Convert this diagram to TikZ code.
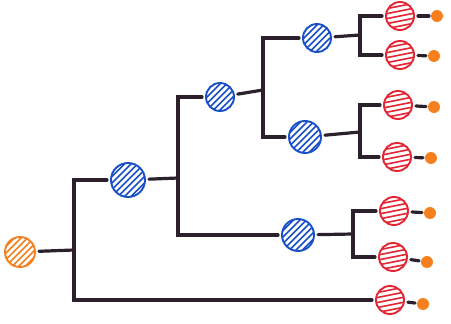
\documentclass[tikz,border=0pt]{standalone}
\usepackage{tikz}

\definecolor{penblue}{RGB}{25,80,200}
\definecolor{penred}{RGB}{228,38,52}
\definecolor{penorange}{RGB}{246,128,30}
\definecolor{penink}{RGB}{45,32,45}

\tikzset{
  ball/.style={circle, draw=#1, line width=1.9pt, fill=white, inner sep=0pt, outer sep=4pt},
  stripes/.style={path picture={
    \foreach \k in {-3,...,3}
      \draw[#1, line width=1.6pt] ([shift={(-20pt,\k*6.5pt-20pt)}]path picture bounding box.center) -- ++(40pt,40pt);
  }},
  flatstripes/.style={path picture={
    \foreach \k in {-3,...,3}
      \draw[#1, line width=1.6pt] ([shift={(-20pt,\k*5pt-4pt)}]path picture bounding box.center) -- ++(40pt,8pt);
  }},
  rootball/.style={ball=penorange, stripes=penorange, minimum size=30pt},
  blueball/.style={ball=penblue, stripes=penblue, minimum size=#1},
  redball/.style={ball=penred, flatstripes=penred, minimum size=28pt},
  dot/.style={circle, fill=penorange, inner sep=0pt, minimum size=12pt, outer sep=2pt},
  edge/.style={penink, line width=3.2pt, line cap=round},
}

\begin{document}
\begin{tikzpicture}[x=1pt, y=-1pt]
    \useasboundingbox (0,0) rectangle (451,324);

    % circles
    \node[rootball] (root) at (20,252) {};
    \node[blueball=34pt] (b1) at (128,180) {};
    \node[blueball=28pt] (b2) at (220,97) {};
    \node[blueball=28pt] (b3) at (317,38) {};
    \node[blueball=32pt] (b4) at (305,137) {};
    \node[blueball=32pt] (b5) at (298,235) {};
    \node[redball] (r1) at (400,16) {};
    \node[redball] (r2) at (400,55) {};
    \node[redball] (r3) at (398,105) {};
    \node[redball] (r4) at (397,157) {};
    \node[redball] (r5) at (394,211) {};
    \node[redball] (r6) at (393,257) {};
    \node[redball] (r7) at (390,300) {};

    % ends
    \node[dot] (d1) at (437,16) {};
    \node[dot] (d2) at (434,56) {};
    \node[dot] (d3) at (434,107) {};
    \node[dot] (d4) at (431,158) {};
    \node[dot] (d5) at (430,213) {};
    \node[dot] (d6) at (427,262) {};
    \node[dot] (d7) at (423,304) {};

    % forks
    \coordinate (j0) at (74,250);
    \coordinate (j1) at (178,178);
    \coordinate (j2) at (263,90);
    \coordinate (j3) at (360,35);
    \coordinate (j4) at (360,132);
    \coordinate (j5) at (353,234);

    \draw[edge] (root) -- (j0);
    \draw[edge] (b1) -| (j0) |- (r7);
    \draw[edge] (b1) -- (j1);
    \draw[edge] (b2) -| (j1) |- (b5);
    \draw[edge] (b2) -- (j2);
    \draw[edge] (b3) -| (j2) |- (b4);
    \draw[edge] (b3) -- (j3);
    \draw[edge] (r1) -| (j3) |- (r2);
    \draw[edge] (b4) -- (j4);
    \draw[edge] (r3) -| (j4) |- (r4);
    \draw[edge] (b5) -- (j5);
    \draw[edge] (r5) -| (j5) |- (r6);

    \foreach \i in {1,...,7}
      \draw[edge] (r\i) -- (d\i);

\end{tikzpicture}
\end{document}
